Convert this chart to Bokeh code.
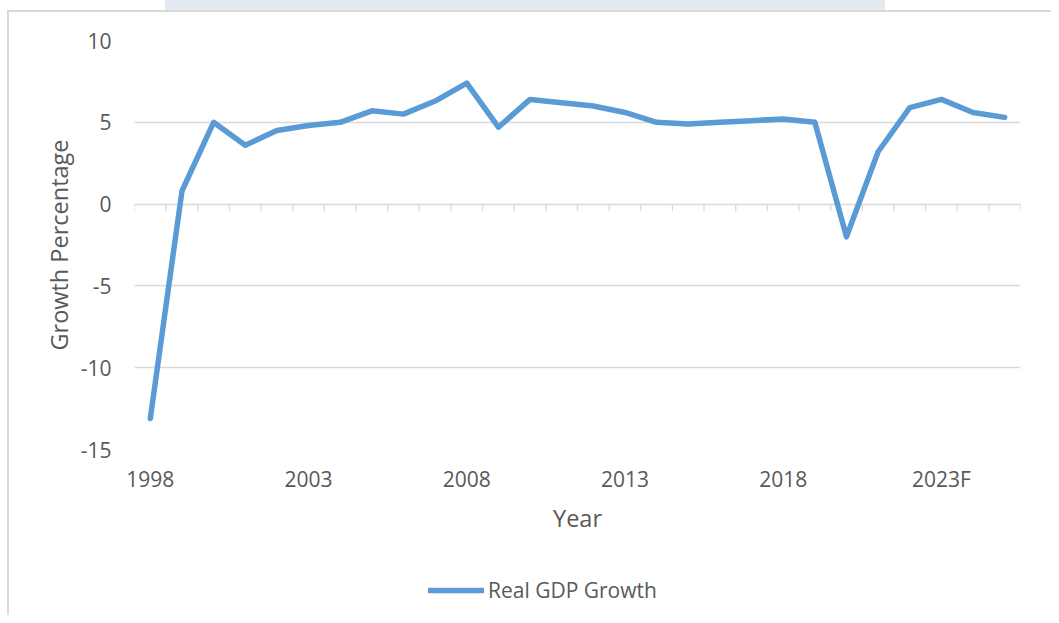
from bokeh.plotting import figure
from bokeh.layouts import column
from bokeh.models import FixedTicker, Legend, LegendItem, ColumnDataSource
from bokeh.embed import file_html
from bokeh.resources import INLINE

years = ["1998", "1999", "2000", "2001", "2002", "2003", "2004", "2005", "2006", "2007",
         "2008", "2009", "2010", "2011", "2012", "2013", "2014", "2015", "2016", "2017",
         "2018", "2019", "2020", "2021", "2022", "2023F", "2024F", "2025F"]
growth = [-13.1, 0.8, 5.0, 3.6, 4.5, 4.8, 5.0, 5.7, 5.5, 6.3,
          7.4, 4.7, 6.4, 6.2, 6.0, 5.6, 5.0, 4.9, 5.0, 5.1,
          5.2, 5.0, -2.0, 3.2, 5.9, 6.4, 5.6, 5.3]
y_ticks = [-15, -10, -5, 0, 5, 10]
label_every = 5
series_name = "Real GDP Growth"

TEXT = "#595959"
GRID = "#d9d9d9"
BLUE = "#5b9bd5"
TAB = "#e4e8f0"
FONT = "Open Sans"
W = 1051

n = len(years)
xs = [i + 0.5 for i in range(n)]
src = ColumnDataSource(dict(x=xs, y=growth, year=years))

p = figure(width=W, height=560, output_backend="svg", toolbar_location=None,
           x_range=(0, n), y_range=(min(y_ticks), max(y_ticks)),
           min_border_left=134, min_border_right=31, min_border_top=40, min_border_bottom=111)
p.outline_line_color = None
p.background_fill_color = "white"
p.border_fill_color = None

# grid
p.xgrid.grid_line_color = None
p.ygrid.grid_line_color = GRID
p.ygrid.grid_line_width = 1.3
p.ygrid.ticker = FixedTicker(ticks=y_ticks)

# y axis
p.yaxis.ticker = FixedTicker(ticks=y_ticks)
p.yaxis.major_label_overrides = {v: str(v) for v in y_ticks}
p.yaxis.axis_line_color = None
p.yaxis.major_tick_line_color = None
p.yaxis.minor_tick_line_color = None
p.yaxis.major_tick_in = 0
p.yaxis.major_tick_out = 0
p.yaxis.major_label_standoff = 23
p.yaxis.major_label_text_font = FONT
p.yaxis.major_label_text_font_size = "21px"
p.yaxis.major_label_text_color = TEXT
p.yaxis.axis_label = "Growth Percentage"
p.yaxis.axis_label_text_font = FONT
p.yaxis.axis_label_text_font_size = "23.5px"
p.yaxis.axis_label_text_font_style = "normal"
p.yaxis.axis_label_text_color = TEXT
p.yaxis.axis_label_standoff = 3

# x axis
label_pos = [xs[i] for i in range(0, n, label_every)]
p.xaxis.ticker = FixedTicker(ticks=label_pos)
p.xaxis.major_label_overrides = {xs[i]: years[i] for i in range(0, n, label_every)}
p.xaxis.axis_line_color = None
p.xaxis.major_tick_line_color = None
p.xaxis.minor_tick_line_color = None
p.xaxis.major_tick_in = 0
p.xaxis.major_tick_out = 0
p.xaxis.major_label_standoff = 15
p.xaxis.major_label_text_font = FONT
p.xaxis.major_label_text_font_size = "21px"
p.xaxis.major_label_text_color = TEXT
p.xaxis.axis_label = "Year"
p.xaxis.axis_label_text_font = FONT
p.xaxis.axis_label_text_font_size = "23.5px"
p.xaxis.axis_label_text_font_style = "normal"
p.xaxis.axis_label_text_color = TEXT
p.xaxis.axis_label_standoff = 6

# category tick marks on the zero line
bounds = list(range(n + 1))
p.segment(x0=bounds, y0=[0] * len(bounds), x1=bounds, y1=[-0.43] * len(bounds),
          line_color=GRID, line_width=1.3)

line_style = dict(line_color=BLUE, line_width=5.5, line_join="round", line_cap="round")
p.line("x", "y", source=src, **line_style)

# legend strip below the chart (its own view range keeps the series out of sight)
q = figure(width=W, height=55, output_backend="svg", toolbar_location=None,
           x_axis_type=None, y_axis_type=None, x_range=(0, n), y_range=(100, 101),
           min_border=0)
q.outline_line_color = None
q.background_fill_alpha = 0
q.border_fill_color = None
lr = q.line("x", "y", source=src, **line_style)
legend = Legend(items=[LegendItem(label=series_name, renderers=[lr])],
                location=(294, 11), orientation="horizontal",
                label_text_font=FONT, label_text_font_size="21px", label_text_color=TEXT,
                glyph_width=56, glyph_height=20, label_height=20,
                label_standoff=4, padding=4, margin=0,
                border_line_color=None, background_fill_alpha=0)
q.add_layout(legend, "center")

layout = column(p, q, spacing=0)
layout.styles = {
    "background-color": "white",
    "background-image": (f"linear-gradient({GRID}, {GRID}), "
                         f"linear-gradient({GRID}, {GRID}), "
                         f"linear-gradient({TAB}, {TAB})"),
    "background-size": "2px 100%, 100% 2px, 720px 10px",
    "background-position": "7px 10px, 7px 10px, 165px 0px",
    "background-repeat": "no-repeat",
}

open("out.html", "w").write(file_html(layout, INLINE))
